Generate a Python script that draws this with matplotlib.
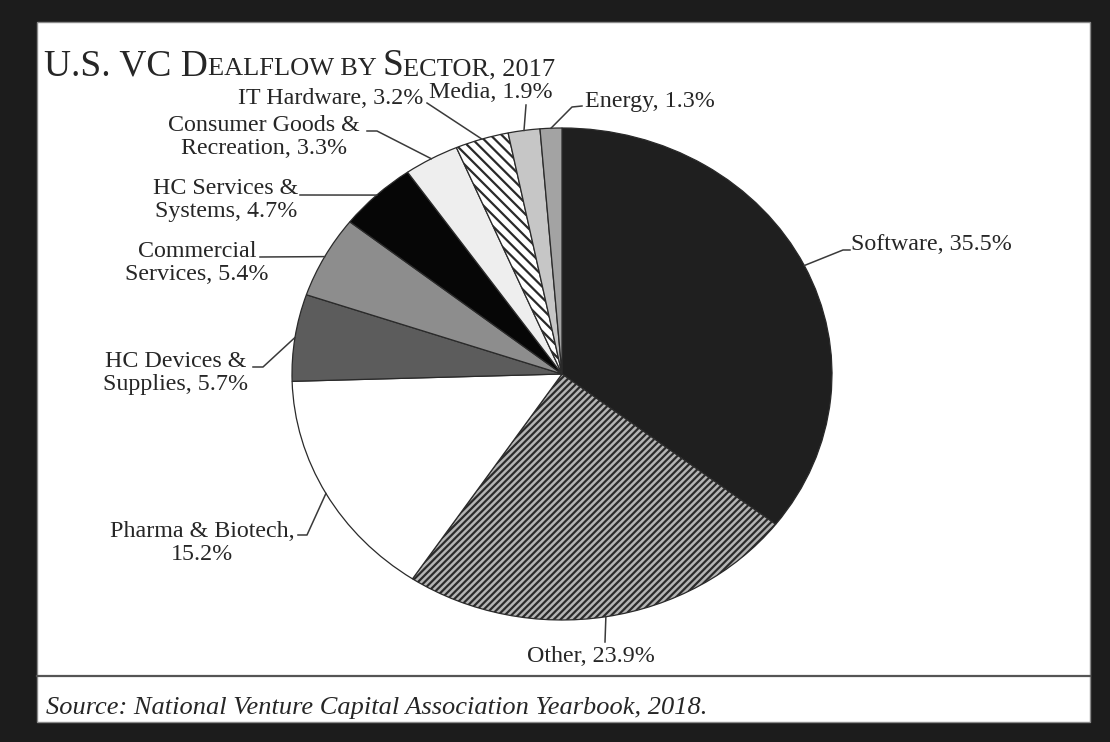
import matplotlib
matplotlib.use("Agg")
import matplotlib.pyplot as plt
from matplotlib.patches import Rectangle
from matplotlib.lines import Line2D
import numpy as np

# ---------------- data ----------------
sectors = ["Software", "Other", "Pharma & Biotech", "HC Devices & Supplies",
           "Commercial Services", "HC Services & Systems",
           "Consumer Goods & Recreation", "IT Hardware", "Media", "Energy"]
shares = [35.5, 23.9, 15.2, 5.7, 5.4, 4.7, 3.3, 3.2, 1.9, 1.3]
label_texts = ["Software, 35.5%", "Other, 23.9%", "Pharma & Biotech,\n15.2%",
               "HC Devices &\nSupplies, 5.7%", "Commercial\nServices, 5.4%",
               "HC Services &\nSystems, 4.7%", "Consumer Goods &\nRecreation, 3.3%",
               "IT Hardware, 3.2%", "Media, 1.9%", "Energy, 1.3%"]
title_parts = [("U.S. VC D", "big"), ("EALFLOW BY ", "small"), ("S", "big"), ("ECTOR, 2017", "small")]
source_text = "Source: National Venture Capital Association Yearbook, 2018."

# ---------------- styles ----------------
fills = ["#1f1f1f", "#b4b4b4", "#ffffff", "#5c5c5c", "#8d8d8d",
         "#060606", "#eeeeee", "#ffffff", "#c6c6c6", "#a3a3a3"]
hatches = [None, "/////", None, None, None, None, None, "\\\\\\", None, None]

W, H = 1110, 742
plt.rcParams["font.family"] = ["Liberation Serif", "DejaVu Serif"]
plt.rcParams["hatch.linewidth"] = 1.6
TXT = "#262626"

fig = plt.figure(figsize=(W / 100, H / 100), dpi=100, facecolor="#1c1c1c")

def fx(x):
    return x / W

def fy(y):
    return 1 - y / H

# white panel
fig.patches.append(Rectangle((fx(37), fy(722)), fx(1090) - fx(37), fy(22) - fy(722),
                             transform=fig.transFigure, facecolor="white",
                             edgecolor="#8a8a8a", linewidth=1.0, zorder=-5))
fig.lines.append(Line2D([fx(37), fx(1090)], [fy(676), fy(676)], transform=fig.transFigure,
                        color="#555555", linewidth=1.6, zorder=-4))

# pie axes (elliptical as in reference)
CX, CY, RX, RY = 562, 374, 270, 246
ax = fig.add_axes([fx(CX - RX), fy(CY + RY), 2 * RX / W, 2 * RY / H])
ax.set_zorder(2)
wedges, _ = ax.pie(shares, startangle=90, counterclock=False, colors=fills,
                   wedgeprops=dict(edgecolor="#2a2a2a", linewidth=0.9))
for w, h in zip(wedges, hatches):
    if h:
        w.set_hatch(h)
ax.set_aspect("auto")
ax.set_xlim(-1, 1)
ax.set_ylim(-1, 1)
ax.axis("off")

def p2d(x, y):
    return ((x - CX) / RX, (CY - y) / RY)

# label layout (pixel positions)
layout = [
    ([(843, 250), (850, 250)], (851, 245), "left"),
    ([(605, 642)], (591, 656), "center"),
    ([(307, 535), (298, 535)], (202, 543), "center"),
    ([(263, 367), (253, 367)], (176, 373), "center"),
    ([(260, 257)], (197, 263), "center"),
    ([(300, 195)], (226, 200), "center"),
    ([(377, 131), (367, 131)], (264, 137), "center"),
    ([(427, 103)], (331, 99), "center"),
    ([(526, 105)], (491, 92), "center"),
    ([(572, 107), (582, 106)], (585, 101), "left"),
]

for w, txt, (pts, tpos, ha) in zip(wedges, label_texts, layout):
    mid = np.deg2rad((w.theta1 + w.theta2) / 2)
    xs = [np.cos(mid)] + [p2d(*p)[0] for p in pts]
    ys = [np.sin(mid)] + [p2d(*p)[1] for p in pts]
    ax.plot(xs, ys, color="#3a3a3a", linewidth=1.1, clip_on=False)
    tx, ty = p2d(*tpos)
    ax.text(tx, ty, txt, ha=ha, va="center", multialignment="center",
            fontsize=17.3, color=TXT, linespacing=1.08, clip_on=False)

# title with small caps
renderer = fig.canvas.get_renderer()
x = 44
for s, kind in title_parts:
    t = fig.text(fx(x), fy(75), s, fontsize=27 if kind == "big" else 19,
                 color=TXT, ha="left", va="baseline")
    bb = t.get_window_extent(renderer=renderer)
    x += bb.width

fig.text(fx(46), fy(714), source_text, fontsize=19, style="italic", color=TXT,
         ha="left", va="baseline")

fig.savefig("out.png", dpi=100, facecolor=fig.get_facecolor())
